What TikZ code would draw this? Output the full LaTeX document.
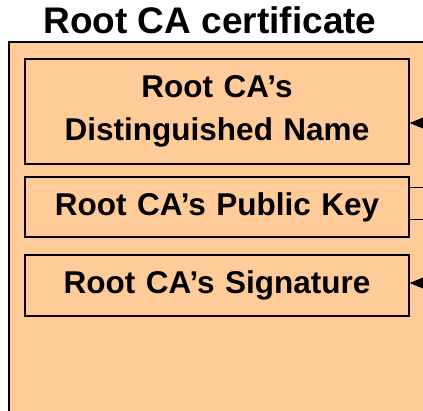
\documentclass[tikz,border=0pt]{standalone}
\usepackage{fontspec}
\setmainfont{Liberation Sans}
\usetikzlibrary{arrows.meta}
\definecolor{peach}{HTML}{FFCC99}
\tikzset{
  field/.style={draw=black, line width=1.3pt, fill=peach, minimum width=384pt,
    text width=370pt, align=center, font=\fontsize{31.5}{43}\selectfont\bfseries, inner sep=0pt},
  link/.style={draw=black, line width=1pt},
  arr/.style={link, -{Triangle[length=16pt,width=13pt]}}
}
\begin{document}
\begin{tikzpicture}[x=1pt,y=-1pt]
\useasboundingbox (0,0) rectangle (423,410);
\clip (0,0) rectangle (423,410);
\node[font=\fontsize{37}{42}\selectfont\bfseries, anchor=base] (title) at (210,33.5) {Root CA certificate};
\draw[line width=2.5pt, fill=peach] (9,42) rectangle (440,430);
\node[field, minimum height=105pt] (dn) at (217,111.5) {Root CA’s\\Distinguished Name};
\node[field, minimum height=60pt] (pk) at (217,207) {Root CA’s Public Key};
\node[field, minimum height=61pt] (sig) at (217,285.5) {Root CA’s Signature};
\coordinate (a1) at (430,123);
\coordinate (a2) at (430,187);
\coordinate (a3) at (430,219);
\coordinate (a4) at (430,283);
\draw[arr] (a1) -- (a1 -| dn.east);
\draw[link] (a2 -| pk.east) -- (a2);
\draw[link] (a3 -| pk.east) -- (a3);
\draw[arr] (a4) -- (a4 -| sig.east);
\end{tikzpicture}
\end{document}
